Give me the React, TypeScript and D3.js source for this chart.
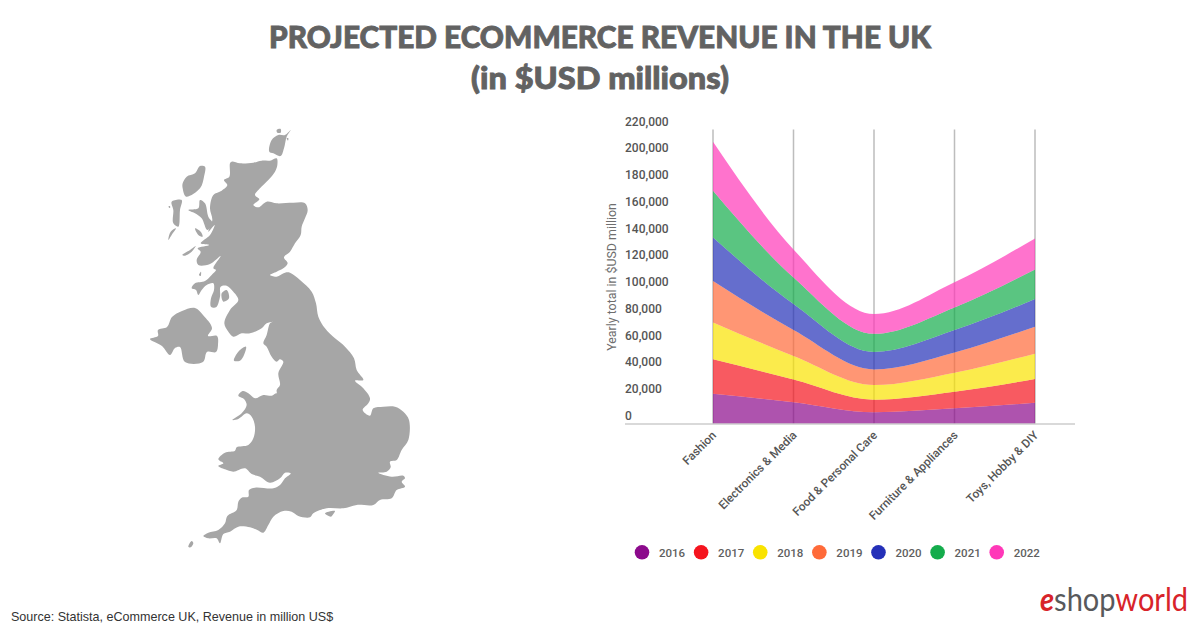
import { useEffect, useRef } from "react";
import * as d3 from "d3";

const categories = ["Fashion", "Electronics & Media", "Food & Personal Care", "Furniture & Appliances", "Toys, Hobby & DIY"];
const years = ["2016", "2017", "2018", "2019", "2020", "2021", "2022"];
const colors = ["#8c0a8c", "#f5141e", "#f9e300", "#ff6a39", "#2430b8", "#14ac4c", "#ff38b8"];

const v2016 = [22600, 16200, 8700, 11700, 15900];
const v2017 = [25700, 17100, 9500, 12400, 17700];
const v2018 = [27600, 17500, 10900, 14200, 18900];
const v2019 = [30900, 19400, 11700, 15200, 20200];
const v2020 = [32600, 19400, 13000, 16700, 20600];
const v2021 = [34800, 19900, 13600, 16900, 22200];
const v2022 = [36600, 20900, 14700, 18700, 23100];
const seriesValues = [v2016, v2017, v2018, v2019, v2020, v2021, v2022];

const yTicks = d3.range(0, 220001, 20000);

// map outlines, traced by hand in page pixels
type Pt = [number, number];
const north = (p: number[][]): Pt[] => p.map(([x, y]) => [130 + x / 3, 120 + y / 3]);
const south = (p: number[][]): Pt[] => p.map(([x, y]) => [170 + x / 3, 330 + y / 3]);

const mainland: Pt[] = [
  ...north([[305,125],[330,130],[370,128],[395,122],[420,122],[440,115],[442,135],[435,155],[415,180],[390,205],[375,225],[388,238],[370,255],[385,262],[410,245],[440,250],[490,248],[525,250],[533,270],[525,295],[515,320],[512,345],[495,370],[480,395],[462,412],[473,430],[460,445],[440,455],[420,465],[440,470],[465,458],[480,458],[510,480],[545,515],[558,550],[565,590],[585,625],[615,655]]),
  ...south([[525,50],[552,85],[560,120],[580,150],[555,152],[580,175],[600,205],[595,220],[578,240],[600,257],[610,235],[640,230],[675,230],[700,245],[717,270],[715,330],[695,360],[680,390],[660,395],[662,412],[650,425],[625,428],[665,440],[700,437],[705,445],[695,455],[705,470],[680,480],[665,505],[630,510],[610,525],[560,525],[520,535],[470,535],[430,550],[420,562],[385,558],[365,545],[340,543],[310,560],[295,585],[280,608],[262,600],[240,592],[205,590],[180,605],[160,612],[150,640],[140,625],[115,625],[100,618],[115,608],[145,600],[165,580],[172,558],[200,540],[205,515],[215,503],[235,500],[237,480],[255,473],[310,475],[330,465],[345,445],[362,430],[345,428],[330,445],[300,458],[270,440],[245,432],[225,415],[190,425],[165,418],[145,408],[160,400],[145,388],[165,368],[195,362],[200,352],[235,345],[250,325],[255,290],[245,260],[230,250],[205,267],[187,270],[215,250],[230,225],[222,207],[205,197],[218,183],[235,190],[255,205],[280,195],[305,197],[320,190],[325,205],[320,180],[330,165],[325,130],[340,95],[330,88],[320,95],[305,80],[290,50],[280,40],[290,15]]),
  ...north([[420,610],[428,605],[410,610],[395,625],[360,640],[335,640],[310,650],[295,635],[283,610],[300,570],[325,540],[310,515],[290,497],[272,500],[270,530],[258,562],[243,560],[243,535],[252,510],[250,490],[230,495],[215,510],[205,525],[198,510],[185,505],[195,490],[225,483],[245,465],[258,450],[250,445],[272,408],[240,432],[205,435],[200,420],[212,395],[203,385],[238,375],[212,370],[240,345],[254,315],[235,335],[247,300],[240,265],[250,225],[275,212],[292,195],[282,180],[298,170],[300,130]]),
];
const northernIreland: Pt[] = [[150,339],[158,336],[158,330],[167,327],[172,317],[182,311],[195,308],[203,315],[212,328],[208,336],[217,336],[218,345],[216,352],[207,352],[203,362],[185,362],[180,347],[175,348],[170,355],[162,346]];
const islands: Pt[][] = [
  north([[418,95],[425,60],[445,45],[465,45],[482,30],[470,50],[462,85],[452,108],[430,100]]),
  north([[440,30],[452,27],[452,38],[442,38]]),
  north([[470,55],[475,55],[474,62]]),
  north([[158,190],[170,170],[195,160],[210,138],[225,140],[222,170],[210,205],[168,230],[158,205]]),
  north([[125,245],[155,240],[150,270],[145,320],[130,310],[130,270]]),
  north([[115,360],[122,335],[138,325],[125,345]]),
  north([[115,260],[120,258],[120,264]]),
  north([[175,270],[205,265],[210,240],[225,250],[235,290],[248,310],[232,330],[215,295],[195,280]]),
  north([[195,325],[212,335],[218,350],[205,345]]),
  north([[157,405],[180,390],[197,378],[185,395],[165,407]]),
  north([[207,465],[213,455],[212,468]]),
  north([[275,520],[290,510],[297,535],[280,545]]),
  south([[192,92],[205,65],[228,50],[222,75],[210,92]]),
  south([[465,550],[495,543],[490,552],[483,560]]),
  south([[55,650],[65,633],[70,640],[62,652]]),
];

export default function App() {
  const svgRef = useRef<SVGSVGElement | null>(null);

  useEffect(() => {
    if (!svgRef.current) return;
    const svg = d3.select(svgRef.current);
    svg.selectAll("*").remove();

    const grey = "#626262";
    const x = d3.scalePoint<string>().domain(categories).range([713, 1035]);
    const y = d3.scaleLinear().domain([0, 220000]).range([424, 129.5]);

    // title
    const title = svg.append("g").attr("text-anchor", "middle").attr("fill", grey)
      .attr("stroke", grey).attr("stroke-width", 0.9)
      .attr("font-family", "Lato").attr("font-weight", 900).attr("font-size", 31);
    title.append("text").attr("x", 600).attr("y", 48)
      .attr("textLength", 662).attr("lengthAdjust", "spacingAndGlyphs")
      .text("PROJECTED ECOMMERCE REVENUE IN THE UK");
    title.append("text").attr("x", 600).attr("y", 89)
      .attr("textLength", 258).attr("lengthAdjust", "spacingAndGlyphs")
      .text("(in $USD millions)");

    // map
    const outline = d3.line<Pt>().curve(d3.curveCatmullRomClosed.alpha(0.5));
    svg.append("g").attr("fill", "#a6a6a6")
      .selectAll("path")
      .data([mainland, northernIreland, ...islands])
      .join("path")
      .attr("d", (d) => outline(d));

    // grid
    svg.append("g").selectAll("line").data(categories).join("line")
      .attr("x1", (d) => x(d)!).attr("x2", (d) => x(d)!)
      .attr("y1", y(220000)).attr("y2", y(0))
      .attr("stroke", "#bdbdbd").attr("stroke-width", 1.5);

    // stacked areas
    const rows = categories.map((c, i) => {
      const row: Record<string, number | string> = { category: c };
      years.forEach((yr, s) => { row[yr] = seriesValues[s][i]; });
      return row;
    });
    const stacked = d3.stack<Record<string, number | string>>().keys(years)(rows);
    const area = d3.area<d3.SeriesPoint<Record<string, number | string>>>()
      .x((d) => x(d.data.category as string)!)
      .y0((d) => y(d[0]))
      .y1((d) => y(d[1]))
      .curve(d3.curveMonotoneX);
    svg.append("g").selectAll("path").data(stacked).join("path")
      .attr("d", (d) => area(d))
      .attr("fill", (_, i) => colors[i])
      .attr("fill-opacity", 0.7);

    // baseline
    svg.append("line").attr("x1", 625).attr("x2", 1075).attr("y1", y(0)).attr("y2", y(0))
      .attr("stroke", "#cccccc").attr("stroke-width", 1.5);

    // y axis labels sit above their values
    svg.append("g").attr("font-family", "Roboto").attr("font-weight", 500).attr("font-size", 12).attr("fill", "#555555")
      .selectAll("text").data(yTicks).join("text")
      .attr("x", 625).attr("y", (d) => y(d) - 8 + 4)
      .text((d) => d3.format(",")(d));
    svg.append("text")
      .attr("transform", "translate(616,277) rotate(-90)")
      .attr("text-anchor", "middle").attr("font-family", "Roboto").attr("font-size", 12.4).attr("fill", "#6e6e6e")
      .text("Yearly total in $USD million");

    // category labels
    svg.append("g").attr("font-family", "Roboto").attr("font-weight", 500).attr("font-size", 11.8).attr("fill", "#555555").attr("text-anchor", "end")
      .selectAll("text").data(categories).join("text")
      .attr("transform", (d) => `translate(${x(d)! + 4},${y(0) + 12}) rotate(-45)`)
      .text((d) => d);

    // legend
    const legendX = d3.scalePoint<string>().domain(years).range([642, 996.7]);
    const legend = svg.append("g").selectAll("g").data(years).join("g")
      .attr("transform", (d) => `translate(${legendX(d)},552.3)`);
    legend.append("circle").attr("r", 7.3).attr("fill", (_, i) => colors[i]);
    legend.append("text").attr("x", 17).attr("y", 4.3)
      .attr("font-family", "Roboto").attr("font-weight", 500).attr("font-size", 11.5).attr("fill", "#5f5f5f")
      .text((d) => d);

    // source
    svg.append("text").attr("x", 11).attr("y", 621)
      .attr("font-family", "Liberation Sans").attr("font-size", 12.55).attr("fill", "#333333")
      .text("Source: Statista, eCommerce UK, Revenue in million US$");

    // logo
    const logo = svg.append("text").attr("x", 1040).attr("y", 611)
      .attr("font-family", "Lato").attr("font-size", 32)
      .attr("textLength", 148).attr("lengthAdjust", "spacingAndGlyphs");
    logo.append("tspan").attr("fill", "#d8232a").attr("font-style", "italic").attr("font-weight", 700).text("e");
    logo.append("tspan").attr("fill", "#58595b").text("shop");
    logo.append("tspan").attr("fill", "#d8232a").text("world");
  }, []);

  return (
    <svg
      ref={svgRef}
      width={1200}
      height={627}
      viewBox="0 0 1200 627"
      style={{ position: "absolute", left: 0, top: 0, background: "#ffffff" }}
    />
  );
}
